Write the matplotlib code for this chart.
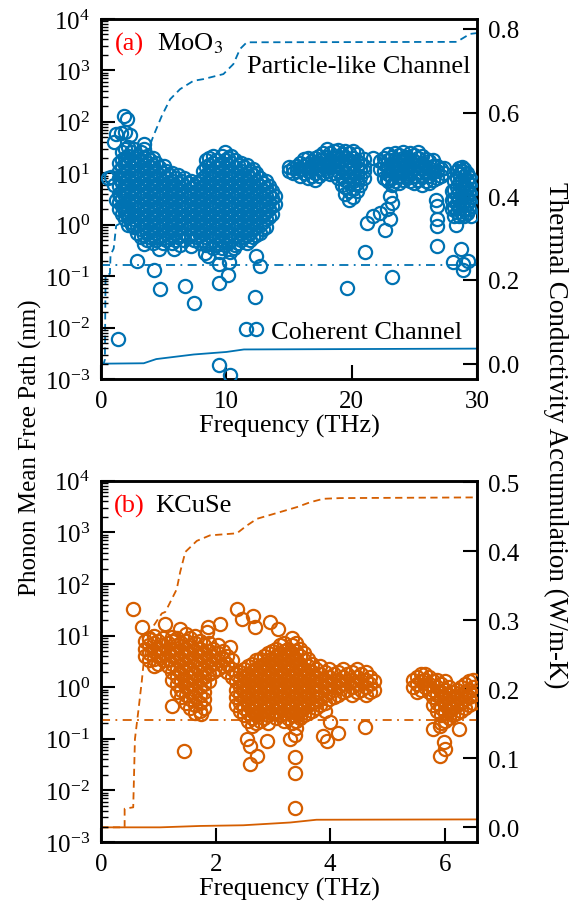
import numpy as np
import matplotlib
matplotlib.use('Agg')
from matplotlib import pyplot as plt
from matplotlib.ticker import LogLocator, MultipleLocator, NullFormatter, FormatStrFormatter

plt.rcParams['font.family'] = 'serif'
plt.rcParams['font.serif'] = ['Liberation Serif', 'DejaVu Serif']
plt.rcParams['mathtext.fontset'] = 'stix'
plt.rcParams['font.size'] = 18

blue = '#0072B2'
orange = '#D55E00'

# ---- (a) MoO3 : mean free path scatter, columns of (freq THz, [MFP nm]) ----
moo3_dense = [
    (1.4, [2.0, 2.8, 4.0, 5.6, 8.0, 11, 16]),
    (1.65, [1.6, 2.3, 3.3, 4.6, 6.5, 9.2, 13, 18, 26]),
    (1.9, [1.3, 1.8, 2.55, 3.6, 5.1, 7.2, 10, 14.5, 20, 29]),
    (2.15, [1.0, 1.4, 2.0, 2.8, 4.0, 5.6, 8.0, 11, 16, 22, 32]),
    (2.4, [1.15, 1.6, 2.3, 3.3, 4.6, 6.5, 9.2, 13, 18, 26]),
    (2.65, [0.9, 1.3, 1.8, 2.55, 3.6, 5.1, 7.2, 10, 14.5, 20, 29]),
    (2.9, [0.7, 1.0, 1.4, 2.0, 2.8, 4.0, 5.6, 8.0, 11, 16, 22]),
    (3.15, [0.58, 0.82, 1.15, 1.6, 2.3, 3.3, 4.6, 6.5, 9.2, 13, 18, 26]),
    (3.4, [0.64, 0.9, 1.3, 1.8, 2.55, 3.6, 5.1, 7.2, 10, 14.5, 20, 29]),
    (3.65, [0.5, 0.7, 1.0, 1.4, 2.0, 2.8, 4.0, 5.6, 8.0, 11, 16, 22]),
    (3.9, [0.58, 0.82, 1.15, 1.6, 2.3, 3.3, 4.6, 6.5, 9.2, 13, 18]),
    (4.15, [0.45, 0.64, 0.9, 1.3, 1.8, 2.55, 3.6, 5.1, 7.2, 10, 14.5, 20]),
    (4.4, [0.5, 0.7, 1.0, 1.4, 2.0, 2.8, 4.0, 5.6, 8.0, 11, 16]),
    (4.65, [0.58, 0.82, 1.15, 1.6, 2.3, 3.3, 4.6, 6.5, 9.2, 13]),
    (4.9, [0.45, 0.64, 0.9, 1.3, 1.8, 2.55, 3.6, 5.1, 7.2, 10]),
    (5.15, [0.5, 0.7, 1.0, 1.4, 2.0, 2.8, 4.0, 5.6, 8.0, 11]),
    (5.4, [0.58, 0.82, 1.15, 1.6, 2.3, 3.3, 4.6, 6.5, 9.2]),
    (5.65, [0.45, 0.64, 0.9, 1.3, 1.8, 2.55, 3.6, 5.1, 7.2, 10]),
    (5.9, [0.5, 0.7, 1.0, 1.4, 2.0, 2.8, 4.0, 5.6, 8.0]),
    (6.15, [0.58, 0.82, 1.15, 1.6, 2.3, 3.3, 4.6, 6.5, 9.2]),
    (6.4, [0.64, 0.9, 1.3, 1.8, 2.55, 3.6, 5.1, 7.2]),
    (6.65, [0.5, 0.7, 1.0, 1.4, 2.0, 2.8, 4.0, 5.6, 8.0]),
    (6.9, [0.58, 0.82, 1.15, 1.6, 2.3, 3.3, 4.6, 6.5]),
    (7.15, [0.64, 0.9, 1.3, 1.8, 2.55, 3.6, 5.1, 7.2]),
    (7.4, [0.5, 0.7, 1.0, 1.4, 2.0, 2.8, 4.0, 5.6]),
    (7.65, [0.58, 0.82, 1.15, 1.6, 2.3, 3.3, 4.6, 6.5]),
    (7.9, [0.45, 0.64, 0.9, 1.3, 1.8, 2.55, 3.6, 5.1, 7.2]),
    (8.15, [0.5, 0.7, 1.0, 1.4, 2.0, 2.8, 4.0, 5.6, 8.0, 11]),
    (8.4, [0.4, 0.58, 0.82, 1.15, 1.6, 2.3, 3.3, 4.6, 6.5, 9.2, 13, 18]),
    (8.65, [0.45, 0.64, 0.9, 1.3, 1.8, 2.55, 3.6, 5.1, 7.2, 10, 14.5, 20]),
    (8.9, [0.35, 0.5, 0.7, 1.0, 1.4, 2.0, 2.8, 4.0, 5.6, 8.0, 11, 16, 22]),
    (9.15, [0.4, 0.58, 0.82, 1.15, 1.6, 2.3, 3.3, 4.6, 6.5, 9.2, 13, 18]),
    (9.4, [0.45, 0.64, 0.9, 1.3, 1.8, 2.55, 3.6, 5.1, 7.2, 10, 14.5]),
    (9.65, [0.35, 0.5, 0.7, 1.0, 1.4, 2.0, 2.8, 4.0, 5.6, 8.0, 11, 16, 22]),
    (9.9, [0.4, 0.58, 0.82, 1.15, 1.6, 2.3, 3.3, 4.6, 6.5, 9.2, 13, 18, 26]),
    (10.15, [0.45, 0.64, 0.9, 1.3, 1.8, 2.55, 3.6, 5.1, 7.2, 10, 14.5, 20]),
    (10.4, [0.5, 0.7, 1.0, 1.4, 2.0, 2.8, 4.0, 5.6, 8.0, 11, 16, 22]),
    (10.65, [0.4, 0.58, 0.82, 1.15, 1.6, 2.3, 3.3, 4.6, 6.5, 9.2, 13, 18]),
    (10.9, [0.45, 0.64, 0.9, 1.3, 1.8, 2.55, 3.6, 5.1, 7.2, 10, 14.5]),
    (11.15, [0.5, 0.7, 1.0, 1.4, 2.0, 2.8, 4.0, 5.6, 8.0, 11, 16]),
    (11.4, [0.58, 0.82, 1.15, 1.6, 2.3, 3.3, 4.6, 6.5, 9.2, 13]),
    (11.65, [0.45, 0.64, 0.9, 1.3, 1.8, 2.55, 3.6, 5.1, 7.2, 10, 14.5]),
    (11.9, [0.5, 0.7, 1.0, 1.4, 2.0, 2.8, 4.0, 5.6, 8.0, 11]),
    (12.15, [0.58, 0.82, 1.15, 1.6, 2.3, 3.3, 4.6, 6.5, 9.2, 12]),
    (12.4, [0.64, 0.9, 1.3, 1.8, 2.55, 3.6, 5.1, 7.2, 10]),
    (12.65, [0.7, 1.0, 1.4, 2.0, 2.8, 4.0, 5.6, 8.0]),
    (12.9, [0.82, 1.15, 1.6, 2.3, 3.3, 4.6, 6.5]),
    (13.15, [0.9, 1.3, 1.8, 2.55, 3.6, 5.1, 7.2]),
    (13.4, [1.4, 2.0, 2.8, 4.0, 5.6]),
    (13.65, [1.6, 2.3, 3.3, 4.6]),
    (13.9, [2.55, 3.6]),
    (15.0, [11, 13]),
    (15.3, [10, 12.5]),
    (15.6, [11, 14]),
    (15.9, [9, 12, 16]),
    (16.2, [10, 14, 19]),
    (16.5, [8, 11, 15, 20]),
    (16.8, [9, 12.5, 17]),
    (17.1, [7.5, 10, 14, 20]),
    (17.4, [9, 12, 16, 22]),
    (17.7, [10, 14, 19, 25]),
    (18.0, [11, 15, 21, 30]),
    (18.3, [9.5, 13, 18, 25]),
    (18.6, [10, 14, 20, 27]),
    (18.9, [8, 11, 15, 21, 28]),
    (19.2, [6, 8.5, 12, 17, 24]),
    (19.5, [4, 5.5, 7.5, 10.5, 15, 21, 27]),
    (19.8, [3, 4.5, 6.5, 9, 13, 18, 25]),
    (20.1, [3.5, 5, 7, 10, 14, 20, 27]),
    (20.4, [4.5, 6.5, 9, 12.5, 17, 24]),
    (20.7, [6, 8.5, 12, 16]),
    (21.0, [8, 11, 14, 19]),
    (22.3, [12, 17]),
    (22.6, [8, 11, 15, 20]),
    (22.9, [7, 9.5, 13, 18, 24]),
    (23.2, [6, 8, 11, 15, 21]),
    (23.5, [7, 10, 14, 19, 25]),
    (23.8, [6.5, 9, 12.5, 17, 23]),
    (24.1, [7.5, 10.5, 14.5, 20, 26]),
    (24.4, [8, 11, 15, 21]),
    (24.7, [7, 9.5, 13, 18, 25]),
    (25.0, [6.5, 9, 12.5, 17, 23]),
    (25.3, [7.5, 10.5, 14.5, 20, 26]),
    (25.6, [6, 8.5, 12, 16, 22]),
    (25.9, [7, 10, 13.5, 19]),
    (26.2, [6.5, 9, 12.5, 17]),
    (26.5, [7.5, 10.5, 14, 18]),
    (26.8, [8, 11, 14]),
    (27.1, [9, 12]),
    (27.4, [10, 12.5]),
    (28.0, [2.0, 3.0, 4.5]),
    (28.2, [1.5, 2.2, 3.2, 4.8, 7]),
    (28.4, [1.8, 2.6, 3.8, 5.5, 8, 11]),
    (28.6, [1.5, 2.1, 3.0, 4.4, 6.5, 9.5, 12.5]),
    (28.8, [1.6, 2.4, 3.5, 5, 7.5, 11, 13]),
    (29.0, [1.5, 2.0, 2.9, 4.2, 6, 9, 12]),
    (29.2, [1.7, 2.5, 3.6, 5.2, 7.5, 10]),
    (29.4, [2.0, 3.0, 4.3, 6.2, 8.5]),
    (29.6, [2.3, 3.4, 5.0, 7]),
]
moo3_freq = [0.55, 0.75, 1.0, 1.2, 1.0, 1.15, 1.55, 1.8, 1.9, 2.05, 2.3, 3.4,
             1.5, 1.8, 2.05, 2.45, 1.38, 2.9, 4.2, 4.7, 6.7, 7.4, 9.4, 9.4,
             10.1, 10.2, 12.3, 12.7, 12.4, 11.6, 12.4, 9.4, 10.3, 3.4, 4.6,
             5.8, 8.3, 9.5, 10.3, 8.5, 10.6, 6.3, 7.2, 5.0,
             21.2, 21.7, 22.3, 22.8, 22.7, 23.1, 23.2, 23.1, 21.7, 22.8,
             26.8, 26.8, 26.8, 26.7, 28.3, 29.2, 29.5,
             19.6, 23.2, 21.1, 26.8, 28.1, 28.9, 28.9, 28.7, 29.3]
moo3_mfp = [8.0, 8.5, 6.0, 3.0, 40, 58, 60, 130, 63, 112, 55, 37,
            3.7, 2.3, 1.7, 1.0, 0.006, 0.2, 0.13, 0.056, 0.065, 0.03, 0.075, 0.17,
            0.105, 0.19, 0.04, 0.155, 0.25, 0.0094, 0.0094, 0.0019, 0.0012, 0.42, 0.34,
            0.34, 0.28, 0.3, 0.29, 0.25, 0.35, 0.4, 0.38, 14,
            1.1, 1.5, 1.7, 2.0, 0.8, 1.3, 2.7, 3.7, 20, 7.7,
            2.3, 1.3, 0.95, 3.0, 1.0, 1.7, 1.5,
            0.058, 0.095, 0.29, 0.39, 0.19, 0.17, 0.13, 0.34, 0.2]

# cumulative thermal conductivity (W/m-K)
moo3_pl_freq = [0, 0.2, 0.3, 0.35, 0.7, 0.75, 1.0, 1.2, 1.65, 2.5, 3.5, 4.17,
                4.84, 5.51, 6.3, 7.37, 8.16, 9.76, 10.56, 11.09, 11.63, 28.39, 29.45, 30]
moo3_pl_acc = [0.0, 0.0, 0.01, 0.21, 0.215, 0.26, 0.275, 0.33, 0.337, 0.42, 0.49, 0.544,
               0.592, 0.632, 0.656, 0.676, 0.68, 0.692, 0.716, 0.752, 0.768, 0.769, 0.788, 0.79]
moo3_coh_freq = [0, 3.4, 4.4, 7.4, 10.0, 11.4, 30]
moo3_coh_acc = [0.0, 0.001, 0.011, 0.022, 0.028, 0.034, 0.036]
moo3_cut = 0.165

# ---- (b) KCuSe ----
kcuse_dense = [
    (0.76, [4.0, 5.6, 8.0]),
    (0.84, [3.3, 4.6, 6.5, 9.2]),
    (0.92, [2.55, 3.6, 5.1, 7.2, 10]),
    (1.00, [2.8, 4.0, 5.6, 8.0]),
    (1.08, [3.3, 4.6, 6.5, 9.2]),
    (1.16, [2.55, 3.6, 5.1, 7.2]),
    (1.24, [1.4, 2.0, 2.8, 4.0, 5.6, 8.0]),
    (1.32, [0.82, 1.15, 1.6, 2.3, 3.3, 4.6, 6.5, 9.2]),
    (1.40, [0.64, 0.9, 1.3, 1.8, 2.55, 3.6, 5.1, 7.2]),
    (1.48, [0.5, 0.7, 1.0, 1.4, 2.0, 2.8, 4.0, 5.6, 8.0, 11]),
    (1.56, [0.4, 0.58, 0.82, 1.15, 1.6, 2.3, 3.3, 4.6, 6.5, 9.2]),
    (1.64, [0.32, 0.45, 0.64, 0.9, 1.3, 1.8, 2.55, 3.6, 5.1, 7.2, 10]),
    (1.72, [0.35, 0.5, 0.7, 1.0, 1.4, 2.0, 2.8, 4.0, 5.6, 8.0]),
    (1.80, [0.4, 0.58, 0.82, 1.15, 1.6, 2.3, 3.3, 4.6, 6.5]),
    (1.88, [1.3, 1.8, 2.55, 3.6, 5.1, 7.2]),
    (1.96, [2.0, 2.8, 4.0, 5.6]),
    (2.04, [2.3, 3.3, 4.6, 6.5]),
    (2.12, [2.55, 3.6, 5.1]),
    (2.20, [2.0, 2.8, 4.0]),
    (2.28, [1.6, 2.3, 3.3]),
    (2.36, [0.45, 0.64, 0.9, 1.3, 1.8]),
    (2.43, [0.35, 0.5, 0.7, 1.0, 1.4, 2.0]),
    (2.50, [0.29, 0.4, 0.58, 0.82, 1.15, 1.6, 2.3]),
    (2.57, [0.225, 0.32, 0.45, 0.64, 0.9, 1.3, 1.8, 2.55]),
    (2.64, [0.18, 0.25, 0.35, 0.5, 0.7, 1.0, 1.4, 2.0, 2.8]),
    (2.71, [0.2, 0.29, 0.4, 0.58, 0.82, 1.15, 1.6, 2.3, 3.3]),
    (2.78, [0.225, 0.32, 0.45, 0.64, 0.9, 1.3, 1.8, 2.55, 3.6]),
    (2.85, [0.25, 0.35, 0.5, 0.7, 1.0, 1.4, 2.0, 2.8, 4.0]),
    (2.92, [0.2, 0.29, 0.4, 0.58, 0.82, 1.15, 1.6, 2.3, 3.3, 4.6]),
    (2.99, [0.32, 0.45, 0.64, 0.9, 1.3, 1.8, 2.55, 3.6, 5.1]),
    (3.06, [0.25, 0.35, 0.5, 0.7, 1.0, 1.4, 2.0, 2.8, 4.0, 5.6]),
    (3.13, [0.29, 0.4, 0.58, 0.82, 1.15, 1.6, 2.3, 3.3, 4.6, 6.5]),
    (3.20, [0.225, 0.32, 0.45, 0.64, 0.9, 1.3, 1.8, 2.55, 3.6, 5.1, 7.2]),
    (3.27, [0.25, 0.35, 0.5, 0.7, 1.0, 1.4, 2.0, 2.8, 4.0, 5.6]),
    (3.34, [0.2, 0.29, 0.4, 0.58, 0.82, 1.15, 1.6, 2.3, 3.3, 4.6, 6.5, 9.2]),
    (3.41, [0.16, 0.225, 0.32, 0.45, 0.64, 0.9, 1.3, 1.8, 2.55, 3.6, 5.1, 7.2]),
    (3.48, [0.25, 0.35, 0.5, 0.7, 1.0, 1.4, 2.0, 2.8, 4.0, 5.6]),
    (3.55, [0.29, 0.4, 0.58, 0.82, 1.15, 1.6, 2.3, 3.3, 4.6]),
    (3.62, [0.32, 0.45, 0.64, 0.9, 1.3, 1.8, 2.55, 3.6]),
    (3.69, [0.35, 0.5, 0.7, 1.0, 1.4, 2.0, 2.8]),
    (3.76, [0.4, 0.58, 0.82, 1.15, 1.6, 2.3]),
    (3.83, [0.45, 0.64, 0.9, 1.3, 1.8, 2.55]),
    (3.90, [0.35, 0.5, 0.7, 1.0, 1.4, 2.0]),
    (3.98, [0.58, 0.82, 1.15, 1.6, 2.3]),
    (4.06, [0.64, 0.9, 1.3, 1.8]),
    (4.14, [0.7, 1.0, 1.4, 2.0]),
    (4.22, [0.82, 1.15, 1.6, 2.3]),
    (4.30, [0.9, 1.3, 1.8]),
    (4.38, [0.7, 1.0, 1.4, 2.0]),
    (4.46, [0.82, 1.15, 1.6, 2.3]),
    (4.54, [0.9, 1.3, 1.8]),
    (4.62, [0.7, 1.0, 1.4, 2.0]),
    (4.70, [0.82, 1.15, 1.6]),
    (4.77, [0.9, 1.3]),
    (5.45, [1.0, 1.4]),
    (5.52, [0.82, 1.15, 1.6]),
    (5.59, [0.9, 1.3, 1.8]),
    (5.66, [1.0, 1.4, 1.8]),
    (5.73, [0.82, 1.15, 1.6]),
    (5.80, [0.45, 0.64, 0.9, 1.3]),
    (5.87, [0.35, 0.5, 0.7, 1.0, 1.4]),
    (5.94, [0.2, 0.29, 0.4, 0.58, 0.82, 1.15]),
    (6.01, [0.225, 0.32, 0.45, 0.64, 0.9, 1.3]),
    (6.08, [0.25, 0.35, 0.5, 0.7, 1.0]),
    (6.15, [0.29, 0.4, 0.58, 0.82]),
    (6.22, [0.32, 0.45, 0.64, 0.9]),
    (6.29, [0.35, 0.5, 0.7, 1.0]),
    (6.36, [0.4, 0.58, 0.82, 1.15]),
    (6.43, [0.45, 0.64, 0.9, 1.3]),
    (6.50, [0.5, 0.7, 1.0, 1.4]),
]
kcuse_freq = [0.56, 0.71, 0.83, 1.12, 1.38, 1.87, 2.08, 1.84, 2.37, 2.46, 2.66, 2.69,
              2.95, 3.09, 1.23, 1.45, 2.54, 2.6, 2.6, 2.72, 2.89, 3.39, 3.39, 3.39,
              3.39, 3.3, 5.92, 6.0, 5.98, 5.92, 5.8, 6.24, 3.94, 3.88, 4.14, 4.0,
              4.61, 1.23, 1.75, 2.25]
kcuse_mfp = [33, 14.6, 8.6, 17, 13.5, 14.6, 17, 11.7, 33, 21, 24.5, 14.6,
             18, 13.5, 0.44, 0.058, 0.1, 0.074, 0.032, 0.047, 0.092, 0.12, 0.045, 0.022,
             0.0045, 0.1, 0.046, 0.064, 0.086, 0.18, 0.155, 0.155, 0.092, 0.115, 0.13, 0.21,
             0.17, 9.5, 0.3, 6.0]

kcuse_pl_freq = [0, 0.41, 0.41, 0.56, 0.59, 0.65, 0.71, 0.74, 0.80, 0.9, 1.06, 1.12,
                 1.32, 1.38, 1.47, 1.67, 1.90, 2.37, 2.54, 2.72, 3.01, 3.42, 3.65,
                 3.88, 4.17, 6.56]
kcuse_pl_acc = [0.0, 0.0, 0.027, 0.029, 0.128, 0.169, 0.212, 0.237, 0.263, 0.29, 0.31, 0.312,
                0.345, 0.37, 0.399, 0.415, 0.423, 0.426, 0.437, 0.447, 0.454, 0.464, 0.471,
                0.476, 0.477, 0.478]
kcuse_coh_freq = [0, 1.03, 1.73, 2.48, 3.30, 3.76, 6.56]
kcuse_coh_acc = [0.0, 0.0, 0.002, 0.003, 0.007, 0.011, 0.0115]
kcuse_cut = 0.23


def expand(cols, freq, mfp):
    f, m = [], []
    for x, vals in cols:
        f += [x] * len(vals)
        m += list(vals)
    return f + list(freq), m + list(mfp)


def draw_panel(ax, cols, freq, mfp, plf, pla, chf, cha, cut, color, xmax, rlim, rstep):
    ax2 = ax.twinx()
    ax.set_zorder(ax2.get_zorder() + 1)
    ax.patch.set_visible(False)

    f, m = expand(cols, freq, mfp)
    ax.plot(f, m, 'o', mfc='none', mec=color, ms=9.5, mew=1.6, zorder=3)
    ax.axhline(cut, color=color, lw=1.3, ls=(0, (5, 3, 1, 3)), zorder=2)
    ax.set_yscale('log')
    ax.set_ylim(1e-3, 1e4)
    ax.set_xlim(0, xmax)
    ax.yaxis.set_major_locator(LogLocator(base=10, numticks=20))
    ax.yaxis.set_minor_locator(LogLocator(base=10, subs=np.arange(2, 10), numticks=20))
    ax.yaxis.set_minor_formatter(NullFormatter())
    ax.tick_params(which='major', direction='in', length=10, width=1.5, right=False, top=False, pad=8)
    ax.tick_params(which='minor', direction='in', length=5, width=1.0, right=False, top=False)
    ax.tick_params(axis='x', which='minor', bottom=False)
    ax.set_xlabel('Frequency (THz)', labelpad=1, fontsize=18.8)

    ax2.plot(plf, pla, color=color, lw=1.3, ls=(0, (4, 2.5)))
    ax2.plot(chf, cha, color=color, lw=1.3)
    ax2.set_ylim(*rlim)
    ax2.yaxis.set_major_locator(MultipleLocator(rstep))
    ax2.yaxis.set_major_formatter(FormatStrFormatter('%.1f'))
    ax2.tick_params(direction='in', length=10, width=1.5, pad=8)
    for a in (ax, ax2):
        for s in a.spines.values():
            s.set_linewidth(1.8)
    return ax2


fig = plt.figure(figsize=(5.78, 9.03), dpi=100)
axa = fig.add_axes([0.175, 0.579, 0.65, 0.399])
axb = fig.add_axes([0.175, 0.0664, 0.65, 0.400])

draw_panel(axa, moo3_dense, moo3_freq, moo3_mfp, moo3_pl_freq, moo3_pl_acc,
           moo3_coh_freq, moo3_coh_acc, moo3_cut, blue, 30, (-0.037, 0.824), 0.2)
axa.xaxis.set_major_locator(MultipleLocator(10))
draw_panel(axb, kcuse_dense, kcuse_freq, kcuse_mfp, kcuse_pl_freq, kcuse_pl_acc,
           kcuse_coh_freq, kcuse_coh_acc, kcuse_cut, orange, 6.56, (-0.0213, 0.502), 0.1)
axb.xaxis.set_major_locator(MultipleLocator(2))

axa.text(0.037, 0.933, '(a)', color='red', transform=axa.transAxes, va='center', fontsize=19)
axa.text(0.148, 0.933, 'MoO$_3$', transform=axa.transAxes, va='center', fontsize=19)
axa.text(0.982, 0.87, 'Particle-like Channel', transform=axa.transAxes, va='center',
         ha='right', fontsize=19)
axa.text(0.96, 0.131, 'Coherent Channel', transform=axa.transAxes, va='center',
         ha='right', fontsize=19)
axb.text(0.035, 0.932, '(b)', color='red', transform=axb.transAxes, va='center', fontsize=19)
axb.text(0.145, 0.932, 'KCuSe', transform=axb.transAxes, va='center', fontsize=19)

fig.text(0.052, 0.504, 'Phonon Mean Free Path (nm)', rotation=90, ha='center', va='center')
fig.text(0.962, 0.518, 'Thermal Conductivity Accumulation (W/m-K)', rotation=270,
         ha='center', va='center', fontsize=19.5)

fig.savefig('out.png', dpi=100)
